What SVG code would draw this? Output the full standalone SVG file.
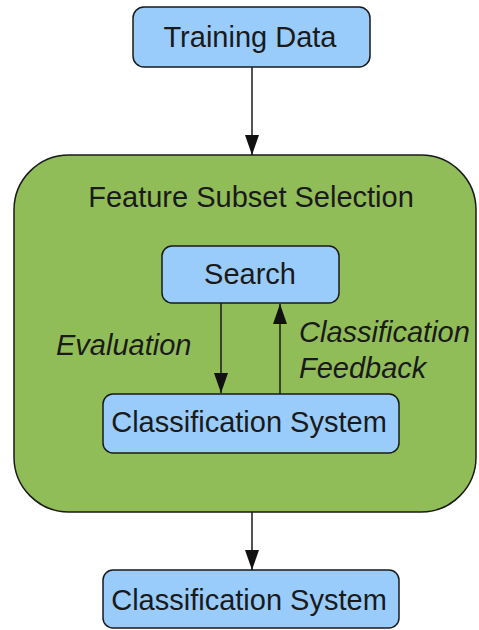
<svg xmlns="http://www.w3.org/2000/svg" width="479" height="630" viewBox="0 0 479 630">
  <style>
    .box { fill: #99ccfa; stroke: #1a1a1a; stroke-width: 1.5; }
    .group { fill: #91bd58; stroke: #1a1a1a; stroke-width: 1.5; }
    .lbl { font-family: "Liberation Sans", Arial, sans-serif; font-size: 29px; fill: #1a1a1a; text-anchor: middle; }
    .it { font-family: "Liberation Sans", Arial, sans-serif; font-size: 29px; font-style: italic; fill: #1a1a1a; }
    .edge { stroke: #1a1a1a; stroke-width: 1.5; fill: none; }
  </style>
  <defs>
    <marker id="arrow" viewBox="0 0 20 14" refX="20" refY="7" markerWidth="20" markerHeight="14" markerUnits="userSpaceOnUse" orient="auto">
      <path d="M0,0 L20,7 L0,14 Z" fill="#111"/>
    </marker>
  </defs>
  <rect width="479" height="630" fill="#ffffff"/>

  <g id="feature-subset-selection">
    <rect class="group" x="14" y="155" width="462" height="357" rx="55" ry="55"/>
    <text class="lbl" x="251" y="207">Feature Subset Selection</text>
  </g>

  <g id="training-data">
    <rect class="box" x="133" y="7" width="237" height="60" rx="11"/>
    <text class="lbl" x="250" y="47">Training Data</text>
  </g>

  <g id="search">
    <rect class="box" x="162" y="246" width="177" height="57" rx="10"/>
    <text class="lbl" x="250" y="284">Search</text>
  </g>

  <g id="classification-system-inner">
    <rect class="box" x="103" y="394" width="296" height="59" rx="10"/>
    <text class="lbl" x="249" y="432">Classification System</text>
  </g>

  <g id="classification-system-output">
    <rect class="box" x="103" y="570" width="296" height="58" rx="10"/>
    <text class="lbl" x="249" y="610">Classification System</text>
  </g>

  <g id="connectors">
    <line class="edge" x1="252" y1="67" x2="252" y2="155" marker-end="url(#arrow)"/>
    <line class="edge" x1="221" y1="303" x2="221" y2="393" marker-end="url(#arrow)"/>
    <line class="edge" x1="280" y1="394" x2="280" y2="304" marker-end="url(#arrow)"/>
    <line class="edge" x1="252" y1="512" x2="252" y2="570" marker-end="url(#arrow)"/>
    <text class="it" x="56" y="355">Evaluation</text>
    <text class="it" x="299" y="342">Classification</text>
    <text class="it" x="299" y="378">Feedback</text>
  </g>
</svg>
